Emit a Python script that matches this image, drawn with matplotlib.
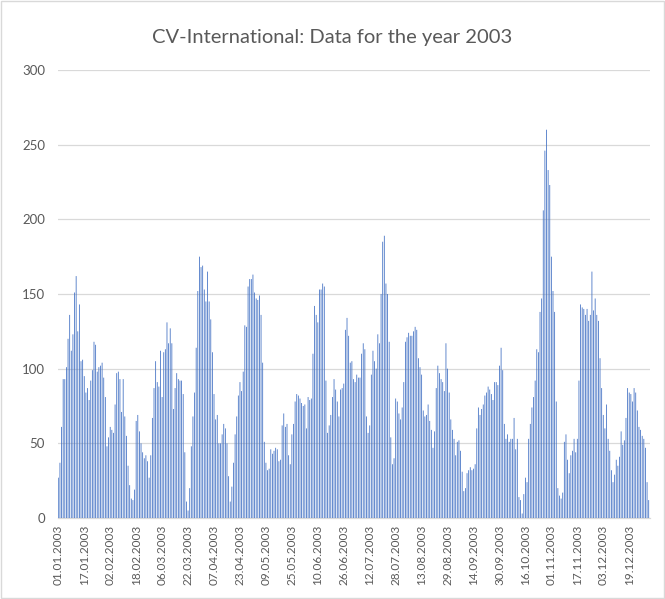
import matplotlib
matplotlib.use("Agg")
import matplotlib.pyplot as plt
import pandas as pd
from matplotlib.patches import Rectangle

# Tageswerte 2003
values = [
    27, 37, 61, 93, 93, 101, 120, 136, 112, 123, 151, 162, 125, 143, 105,
    106, 95, 84, 87, 79, 92, 99, 118, 116, 98, 101, 102, 104, 94, 81,
    48, 54, 61, 59, 57, 76, 97, 98, 93, 71, 93, 68, 55, 35,
    22, 13, 12, 19, 65, 69, 58, 50, 44, 40, 42, 38, 27, 42, 67, 87,
    105, 91, 88, 112, 81, 111, 113, 131, 117, 127, 117, 73, 87, 97, 93,
    92, 92, 83, 44, 11, 5, 20, 48, 68, 84,
    114, 152, 175, 168, 169, 153, 145, 165, 145, 133, 111, 83, 66, 69, 50,
    50, 56, 63, 60, 50, 28, 11, 21, 37, 56, 68, 82, 91, 85, 98,
    129, 128, 155, 160, 160, 163, 151, 147, 146, 149, 136, 104, 51, 37, 32,
    33, 46, 43, 45,
    47, 46, 38, 39, 62, 70, 61, 63, 42, 36, 56, 63, 78, 83, 82,
    80, 77, 75, 76, 60, 81, 79, 80, 110, 142, 136, 131, 153, 153, 157,
    155, 92, 57, 62, 69, 81, 93, 86, 78, 68, 86, 87, 90,
    126, 134, 122, 104, 105, 93, 91, 96, 94, 94, 110, 117, 113, 68, 57,
    62, 96, 112, 105, 100, 123, 117, 150, 185, 189, 157, 150, 118, 54, 36,
    40, 80, 78, 70, 66, 74, 91,
    118, 121, 124, 122, 122, 125, 128, 126, 107, 101, 96, 72, 68, 69, 76,
    65, 59, 47, 58, 87, 102, 97, 93, 91, 85, 117, 100, 84, 66, 59,
    53, 42, 51, 52, 45, 31, 18, 20, 30, 32, 34, 32, 33, 36,
    60, 74, 69, 73, 76, 82, 84, 88, 86, 83, 79, 91, 91, 89, 102,
    114, 99, 63, 53, 56, 51, 53, 53, 67, 46, 53, 14, 12, 3, 16,
    27, 24, 53, 63, 74, 81, 92, 113, 111, 138, 147, 206, 246, 260, 233,
    223, 175, 152, 138,
    78, 20, 15, 13, 17, 51, 56, 39, 30, 42, 45, 53, 44, 53, 92,
    143, 141, 140, 136, 140, 132, 136, 165, 139, 147, 136, 132, 107, 87, 69,
    60, 76, 53, 45, 32, 24, 29, 39, 35, 41, 58, 49, 52, 67, 87,
    84, 83, 78, 87, 84, 72, 61, 59, 55, 53, 47, 24, 12,
]
dates = pd.date_range("2003-01-01", periods=len(values), freq="D")
tick_step = 16
y_ticks = [0, 50, 100, 150, 200, 250, 300]
title = "CV-International: Data for the year 2003"

plt.rcParams["font.family"] = ["Lato", "DejaVu Sans"]
grey_text = "#595959"
grey_line = "#D9D9D9"

fig = plt.figure(figsize=(6.65, 5.99), dpi=100)
ax = fig.add_axes([57.5 / 665, 81 / 599, 592 / 665, 448 / 599])

x = list(range(len(values)))
bars = ax.bar(x, values, width=0.5, color="#4472C4", linewidth=0, zorder=3)
for b in bars:
    b.set_snap(False)

ax.set_xlim(-0.5, len(values) - 0.5)
ax.set_ylim(0, 300)
ax.set_yticks(y_ticks)
ax.yaxis.grid(True, color=grey_line, linewidth=0.9, zorder=0)
ax.set_axisbelow(True)

pos = x[::tick_step]
ax.set_xticks(pos)
ax.set_xticklabels([d.strftime("%d.%m.%Y") for d in dates[::tick_step]],
                   rotation=90, fontsize=8.5, color=grey_text)
ax.tick_params(axis="both", length=0)
ax.tick_params(axis="y", labelsize=9.5, labelcolor=grey_text, pad=9)
ax.tick_params(axis="x", pad=5)

for s in ["top", "right", "left"]:
    ax.spines[s].set_visible(False)
ax.spines["bottom"].set_color(grey_line)
ax.spines["bottom"].set_linewidth(0.9)

fig.text(0.5, 1 - 37 / 599, title, ha="center", va="center",
         fontsize=14.5, color=grey_text)

# Rahmen um das Diagramm
fig.patches.append(Rectangle((0.002, 0.002), 0.996, 0.996, transform=fig.transFigure,
                             fill=False, edgecolor=grey_line, linewidth=1))

fig.savefig("out.png", dpi=100)
